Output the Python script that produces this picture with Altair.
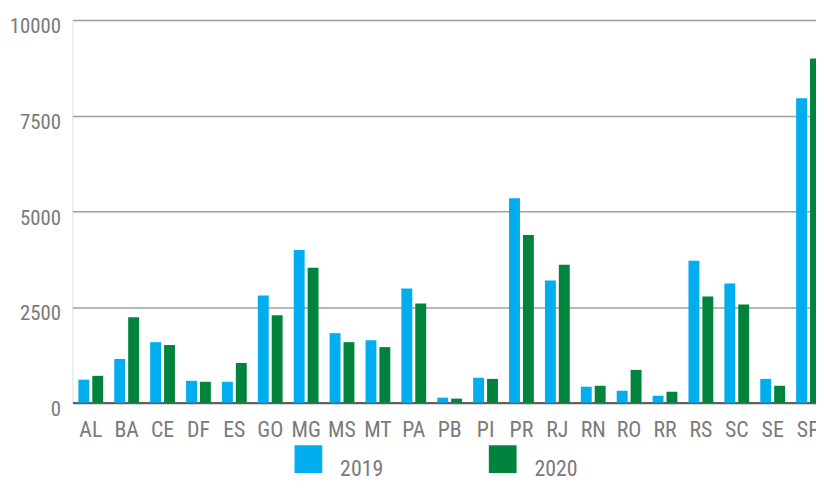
import altair as alt
import pandas as pd

states = ["AL", "BA", "CE", "DF", "ES", "GO", "MG", "MS", "MT", "PA", "PB",
          "PI", "PR", "RJ", "RN", "RO", "RR", "RS", "SC", "SE", "SP"]
v2019 = [600, 1140, 1580, 570, 545, 2800, 3990, 1815, 1630, 2980, 130,
         650, 5340, 3190, 415, 310, 180, 3705, 3110, 620, 7955]
v2020 = [700, 2230, 1505, 545, 1035, 2280, 3525, 1580, 1450, 2590, 105,
         620, 4380, 3600, 440, 855, 285, 2770, 2565, 440, 8990]
years = ["2019", "2020"]
colors = ["#00AEEF", "#00843D"]
yticks = [0, 2500, 5000, 7500, 10000]

rows = []
for s, a, b in zip(states, v2019, v2020):
    rows.append({"state": s, "year": years[0], "value": a})
    rows.append({"state": s, "year": years[1], "value": b})
df = pd.DataFrame(rows)

FONT = "Roboto Condensed, Liberation Sans Narrow, Roboto, sans-serif"
GRAY = "#7a7a7a"

chart = alt.Chart(df).mark_bar().encode(
    x=alt.X("state:N", sort=states,
            scale=alt.Scale(range=[0, 761], paddingInner=0.309, paddingOuter=0.166),
            axis=alt.Axis(title=None, labelAngle=0, ticks=False, tickSize=0,
                          domainColor="#606060", domainWidth=2.5,
                          labelFont=FONT, labelFontSize=22, labelColor=GRAY,
                          labelBaseline="alphabetic", labelPadding=34)),
    xOffset=alt.XOffset("year:N", sort=years,
                        scale=alt.Scale(paddingInner=0.214, paddingOuter=0)),
    y=alt.Y("value:Q", scale=alt.Scale(domain=[0, 10000], nice=False),
            axis=alt.Axis(title=None, values=yticks, format="d", domain=False,
                          ticks=False, tickSize=0,
                          gridColor="#a0a0a0", gridWidth=1.5,
                          labelFont=FONT, labelFontSize=21, labelColor=GRAY,
                          labelPadding=12, labelBaseline="alphabetic", labelOffset=13)),
    color=alt.Color("year:N",
                    scale=alt.Scale(domain=years, range=colors),
                    legend=alt.Legend(title=None, orient="none", legendX=224, legendY=429,
                                      direction="horizontal", symbolType="square",
                                      symbolSize=784, symbolStrokeWidth=0, symbolOpacity=1,
                                      labelFont=FONT, labelFontSize=22, labelColor=GRAY,
                                      labelBaseline="top", labelOffset=18,
                                      columnPadding=106, padding=0)),
).properties(
    width=750, height=386,
    autosize=alt.AutoSizeParams(type="none"),
    padding={"left": 65, "top": 10, "right": 0, "bottom": 76},
).configure_view(stroke=None).configure(background="white")

chart.save("out.html", embed_options={"renderer": "svg", "actions": False})
